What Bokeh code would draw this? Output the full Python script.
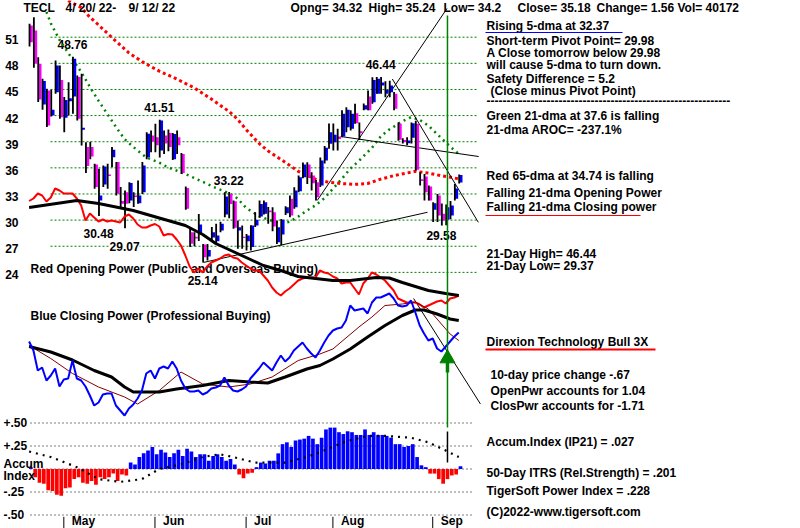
from bokeh.plotting import figure
from bokeh.models import Range1d, ColumnDataSource
from bokeh.core.properties import value
from bokeh.transform import dodge
from bokeh.embed import file_html
from bokeh.resources import INLINE

# ------------------------------------------------------------------ data
DAYS = list(range(100))   # trading days 4/20/22 .. 9/12/22

OPEN = [52.35, 51.77, 47.95, 43.28, 44.89, 42.01, 44.69, 46.10, 41.75, 43.66,
        44.20, 46.42, 40.37, 38.38, 38.40, 36.39, 32.26, 34.09, 35.24, 37.23,
        36.66, 32.18, 33.21, 32.26, 32.83, 31.95, 33.21, 37.23, 39.70, 39.50,
        37.99, 39.70, 40.00, 37.00, 39.50, 37.60, 33.70, 28.60, 28.10, 28.42,
        27.20, 25.82, 28.00, 27.58, 28.80, 30.64, 33.00, 32.17, 28.80, 28.10,
        27.58, 26.90, 29.38, 30.41, 30.72, 31.10, 30.91, 27.46, 28.34, 30.80,
        32.44, 31.48, 33.32, 34.93, 36.38, 35.12, 34.35, 33.97, 36.84, 38.76,
        38.95, 39.60, 39.60, 40.67, 40.48, 42.28, 40.20, 42.70, 44.20, 43.54,
        44.50, 45.46, 44.50, 44.69, 44.50, 41.05, 39.21, 38.83, 39.45, 41.05,
        34.70, 35.00, 33.86, 31.18, 32.83, 30.72, 30.03, 30.53, 32.44, 34.32]
HIGH = [52.54, 53.30, 48.71, 46.22, 45.08, 44.96, 48.33, 47.76, 44.12, 45.84,
        48.76, 46.60, 46.80, 38.95, 39.00, 36.47, 35.89, 36.27, 36.47, 38.38,
        36.66, 33.79, 33.40, 34.36, 33.21, 34.55, 36.66, 40.10, 40.30, 41.05,
        41.51, 40.30, 40.40, 40.00, 40.30, 37.70, 33.85, 29.10, 28.60, 30.70,
        27.27, 27.27, 29.20, 29.57, 29.80, 33.20, 33.22, 32.25, 29.95, 29.38,
        28.40, 29.40, 30.90, 32.25, 32.25, 31.50, 31.48, 29.95, 30.14, 31.60,
        32.83, 33.78, 35.12, 36.60, 36.65, 35.50, 34.60, 37.20, 38.50, 41.10,
        41.10, 40.50, 42.60, 42.97, 42.60, 43.35, 41.20, 43.40, 44.88, 46.40,
        46.44, 46.44, 45.95, 46.00, 44.70, 41.20, 39.40, 39.50, 41.20, 41.40,
        35.50, 35.30, 33.97, 32.06, 33.00, 31.90, 31.80, 32.20, 34.16, 35.24]
LOW = [49.94, 47.49, 43.55, 42.67, 40.68, 41.90, 44.50, 41.63, 40.10, 42.00,
       42.20, 41.44, 38.57, 35.40, 37.00, 33.60, 30.48, 33.80, 33.60, 36.08,
       32.83, 31.30, 29.07, 31.95, 31.50, 31.87, 33.00, 37.00, 37.80, 37.80,
       37.20, 37.60, 37.90, 36.90, 37.60, 35.30, 31.20, 26.90, 27.00, 27.60,
       25.14, 25.36, 27.50, 27.27, 28.60, 30.33, 30.20, 29.00, 26.70, 26.70,
       26.50, 26.50, 29.20, 30.26, 30.64, 29.57, 28.73, 27.27, 27.08, 30.60,
       30.33, 31.29, 33.20, 34.80, 34.16, 33.40, 32.26, 33.80, 36.50, 38.20,
       38.00, 38.00, 39.50, 40.10, 40.30, 41.05, 39.20, 42.60, 42.60, 43.35,
       44.50, 44.50, 44.10, 44.10, 42.60, 39.10, 38.80, 38.60, 38.80, 35.70,
       33.97, 32.25, 32.25, 29.77, 29.77, 29.37, 29.40, 30.10, 32.26, 34.20]
CLOSE = [50.43, 47.95, 43.86, 45.96, 40.87, 42.67, 47.76, 41.82, 43.80, 44.00,
         48.52, 41.63, 40.60, 36.20, 37.30, 33.79, 32.83, 36.16, 35.05, 38.07,
         33.02, 31.87, 31.87, 34.25, 32.64, 32.83, 36.27, 39.91, 39.00, 38.60,
         41.43, 38.80, 38.40, 39.90, 38.60, 35.40, 31.30, 27.30, 27.90, 29.49,
         25.74, 26.58, 28.60, 28.23, 29.57, 32.71, 31.86, 29.11, 29.19, 27.96,
         28.23, 29.38, 30.03, 31.86, 32.06, 30.91, 29.26, 29.19, 30.03, 31.48,
         30.53, 33.40, 34.93, 36.38, 34.93, 34.24, 32.63, 36.84, 38.30, 40.10,
         39.80, 39.30, 42.20, 42.66, 42.20, 41.13, 39.98, 43.20, 42.60, 46.10,
         46.22, 45.80, 44.96, 45.45, 42.78, 39.22, 38.95, 39.14, 41.13, 35.77,
         34.50, 33.20, 32.25, 31.95, 30.53, 29.95, 31.48, 31.68, 33.62, 35.18]

# Green 21-dma and red 65-dma
MA21_DAYS = [4, 5, 7, 9, 12, 14, 16, 18, 20, 22, 24, 27, 30, 32, 35, 38, 40, 43, 46, 48,
             50, 53, 56, 58, 60, 62, 64, 66, 68, 70, 72, 74, 76, 79, 81, 83, 86, 88, 90,
             92, 95, 97, 99]
MA21_VALS = [53.9, 52.6, 50.7, 49.2, 47.0, 45.3, 43.7, 42.2, 40.7, 39.3, 38.4, 37.2, 36.6,
             36.05, 35.5, 34.85, 34.4, 33.7, 33.1, 32.5, 31.4, 30.45, 29.9, 29.6, 29.8,
             30.4, 31.1, 31.7, 32.5, 33.6, 34.7, 35.9, 36.8, 38.3, 39.6, 40.4, 41.35,
             41.82, 41.5, 40.85, 39.4, 38.45, 37.6]
MA65_DAYS = [9, 12, 14, 16, 19, 23, 26, 30, 34, 38, 42, 46, 48, 50, 53, 55, 57, 60, 62,
             66, 69, 72, 75, 78, 81, 84, 87, 89, 92, 95, 99]
MA65_VALS = [55.2, 54.4, 53.3, 52.4, 51.0, 49.2, 48.2, 47.1, 46.2, 45.2, 43.9, 42.5, 41.6,
             40.4, 38.8, 37.95, 37.3, 36.3, 35.6, 34.7, 34.35, 34.2, 34.1, 34.2, 34.7,
             35.1, 35.4, 35.6, 35.4, 35.1, 34.74]

# Opening Power (red) and its moving average (black)
OPEN_POWER = [9.9, 10.4, 11.4, 11.0, 9.8, 10.6, 12.4, 12.0, 11.4, 11.4,
              11.4, 10.4, 9.0, 6.0, 7.4, 6.6, 5.8, 6.2, 5.8, 6.0,
              5.8, 5.6, 6.8, 7.2, 6.4, 5.2, 4.6, 4.6, 5.0, 5.3,
              4.8, 3.0, 3.3, 3.2, 2.2, 1.0, -1.0, -3.2, -4.4, -3.6,
              -4.4, -3.2, -2.4, -2.0, -1.6, -1.0, -0.8, -1.4, -1.6, -2.4,
              -3.0, -3.6, -4.0, -4.0, -5.0, -6.0, -7.4, -8.4, -9.0, -8.2,
              -7.6, -6.8, -6.0, -5.6, -5.4, -5.4, -5.4, -4.0, -4.4, -4.6,
              -5.2, -5.6, -6.6, -6.4, -6.4, -7.6, -8.8, -6.6, -5.6, -4.4,
              -4.8, -5.4, -6.0, -7.0, -8.0, -9.6, -10.0, -10.4, -10.4, -10.4,
              -10.8, -11.4, -11.0, -10.6, -10.2, -10.0, -10.6, -9.6, -9.4, -9.0]
OP_MA_DAYS = [0, 11, 16, 24, 28, 32, 36, 40, 43, 47, 51, 54, 58, 62, 66, 70, 74, 78, 80,
              83, 86, 89, 92, 96, 99]
OP_MA_VALS = [8.6, 10.0, 9.4, 8.0, 7.0, 6.0, 5.0, 3.2, 1.4, -0.2, -1.8, -3.0, -4.0, -5.2,
              -5.6, -6.0, -6.0, -5.6, -5.4, -5.5, -6.4, -7.2, -8.0, -8.6, -9.0]

# Closing Power (blue) and its two moving averages
CLOSE_POWER = [5.8, 4.0, 0.0, 0.6, -2.0, -1.0, 0.4, -3.2, -1.8, -1.6,
               2.0, -1.6, -2.0, -3.2, -5.0, -7.0, -6.4, -4.8, -4.6, -4.6,
               -7.0, -8.0, -9.0, -7.6, -6.8, -5.6, -4.0, -0.6, 0.0, -1.6,
               0.4, 0.8, 0.4, 1.8, 0.4, -2.0, -3.6, -4.2, -4.2, -4.0,
               -4.8, -4.4, -3.6, -3.4, -3.0, -1.4, -3.0, -4.0, -4.2, -3.8,
               -3.2, -1.6, -0.6, 0.4, 1.6, 0.8, 0.0, 1.6, 3.0, 1.8,
               2.6, 4.0, 4.8, 5.6, 4.4, 3.4, 2.6, 4.0, 5.6, 7.0,
               8.0, 8.4, 8.6, 10.0, 13.0, 12.0, 12.2, 12.4, 11.4, 13.6,
               14.6, 14.6, 15.0, 15.4, 14.4, 13.0, 12.8, 13.0, 14.0, 11.6,
               9.0, 7.4, 6.0, 6.4, 4.4, 3.8, 4.8, 5.8, 6.8, 7.6]
CP_MA_DAYS = [0, 5, 10, 15, 19, 22, 24, 30, 34, 40, 46, 51, 55, 59, 64, 67, 70, 74, 78,
              82, 86, 89, 91, 94, 97, 99]
CP_MA_VALS = [4.8, 3.7, 2.1, 0.0, -1.3, -3.3, -4.3, -4.3, -3.7, -3.0, -2.0, -2.3, -2.5,
              -1.3, 0.3, 1.0, 2.3, 4.3, 6.7, 9.0, 11.0, 12.1, 12.1, 11.3, 10.3, 10.0]
CP_MA2_DAYS = [0, 5, 10, 16, 22, 25, 30, 35, 40, 46, 51, 56, 62, 67, 70, 76, 79, 82, 86,
               89, 92, 95, 97, 99]
CP_MA2_VALS = [5.0, 2.4, -0.6, -3.3, -5.3, -6.7, -4.0, -0.3, -2.7, -3.3, -2.7, -1.3, 2.0,
               3.3, 4.3, 8.7, 10.7, 13.0, 13.3, 13.7, 12.3, 9.3, 7.3, 6.0]

# Accumulation Index (IP21) and its moving average
ACCUM = [0.02, -0.09, -0.15, -0.16, -0.23, -0.24, -0.28, -0.29, -0.21, -0.20,
         -0.11, -0.09, -0.15, -0.16, -0.13, -0.17, -0.09, -0.11, -0.09, -0.05,
         -0.13, -0.06, -0.07, 0.07, 0.05, 0.13, 0.17, 0.20, 0.24, 0.16,
         0.21, 0.18, 0.13, 0.17, 0.21, 0.14, 0.22, 0.19, 0.13, 0.16,
         0.16, 0.09, 0.14, 0.16, 0.13, 0.09, 0.11, 0.05, -0.06, -0.10,
         -0.05, -0.04, 0.02, 0.07, 0.06, 0.09, 0.09, 0.17, 0.27, 0.29,
         0.24, 0.31, 0.32, 0.33, 0.36, 0.33, 0.27, 0.34, 0.43, 0.45,
         0.45, 0.40, 0.38, 0.41, 0.40, 0.37, 0.37, 0.43, 0.37, 0.40,
         0.37, 0.37, 0.36, 0.34, 0.27, 0.27, 0.24, 0.25, 0.27, 0.13,
         0.04, 0.02, -0.05, -0.05, -0.11, -0.16, -0.11, -0.07, -0.06, 0.03]
ACC_MA_DAYS = [0, 5, 11, 16, 21, 26, 30, 35, 40, 44, 47, 52, 59, 64, 69, 73, 78, 82, 88,
               92, 96, 99]
ACC_MA_VALS = [0.19, 0.13, 0.02, -0.11, -0.14, -0.11, 0.0, 0.05, 0.13, 0.16, 0.13, 0.07,
               0.07, 0.13, 0.22, 0.30, 0.36, 0.36, 0.34, 0.29, 0.20, 0.13]

# Trend lines (day, price) pairs
TREND_D0 = [40.2, 66.4, 83.7, 71.8]
TREND_P0 = [25.14, 32.26, 46.2, 39.6]
TREND_D1 = [91.8, 96.3, 103.5, 103.6]
TREND_P1 = [30.9, 54.3, 29.75, 37.3]
CP_TREND_D = [88.6, 104.0]
CP_TREND_V = [14.4, -6.7]
SIGNAL_DAY = 96.4

PRICE_TICKS = [51, 48, 45, 42, 39, 36, 33, 30, 27, 24]
ACC_TICKS = [0.50, 0.25, 0.0, -0.25, -0.50]
ACC_TICK_LABELS = ["+.50", "+.25", "", "-.25", "-.50"]
MONTH_DAYS = [8, 29, 50, 70, 93]
MONTH_LABELS = ["May", "Jun", "Jul", "Aug", "Sep"]

HIGH_LABEL_DAYS = [10, 30, 46, 81]
HIGH_LABEL_VALS = [48.76, 41.51, 33.22, 46.44]
LOW_LABEL_DAYS = [16, 22, 40]
LOW_LABEL_VALS = [30.48, 29.07, 25.14]
RECENT_LOW_DAY, RECENT_LOW_VAL = 95, 29.58

HEADER = ["TECL", "4/ 20/ 22-", "9/ 12/ 22", "Opng= 34.32", "High= 35.24", "Low= 34.2",
          "Close= 35.18", "Change= 1.56", "Vol= 40172"]
HEADER_X = [23, 65, 128, 290, 368, 443, 517, 596, 677]
SIDE_TEXT = ["Rising 5-dma at 32.37", "Short-term Pivot Point= 29.98",
             "A Close tomorrow below  29.98", "will cause 5-dma to turn down.",
             "Safety Difference = 5.2", "(Close minus Pivot Point)", "-" * 61,
             "Green 21-dma at  37.6 is falling", "21-dma AROC= -237.1%",
             "Red 65-dma at  34.74 is falling", "Falling 21-dma Opening Power",
             "Falling 21-dma Closing power", "21-Day High= 46.44", "21-Day Low= 29.37",
             "Direxion Technology Bull 3X", "10-day price change -.67",
             "OpenPwr accounts for  1.04", "ClosPwr accounts for -1.71",
             "Accum.Index (IP21) =  .027", "50-Day ITRS (Rel.Strength) =  .201",
             "TigerSoft Power Index =  .228", "(C)2022-www.tigersoft.com"]
SIDE_X = [486, 486, 486, 486, 486, 490, 486, 486, 486, 486, 486, 486, 486, 486,
          486, 490, 490, 490, 486, 486, 486, 486]
SIDE_Y = [25, 40.5, 52.8, 64.7, 78, 90, 100, 115, 129.7, 175.7, 192, 206.7, 253.3, 265.3,
          341.7, 374.7, 390, 405.7, 441.3, 472, 490, 511.7]

# ------------------------------------------------------------------ layout helpers
W, H = 800, 528
def px_day(X):      # reference pixel column -> day units
    return (X - 28.6) / 4.34
def px_price(Y):    # reference pixel row -> price units
    return 51 - (Y - 36.7) / 8.71

FONT = value("Liberation Sans")
BLUE, MAGENTA, RED, GREEN = "#0000FF", "#FF00FF", "#FF0000", "#008000"

p = figure(width=W, height=H, output_backend="svg", toolbar_location=None,
           x_range=Range1d(px_day(0), px_day(W)),
           y_range=Range1d(px_price(H), px_price(0)),
           x_axis_location=None, y_axis_location=None, min_border=0)
p.grid.visible = False
p.outline_line_color = None
p.background_fill_color = "white"
p.extra_y_ranges = {
    "op": Range1d((250 - H) / 5, 250 / 5),
    "cp": Range1d((370 - H) / 5, 370 / 5),
    "acc": Range1d((468.5 - H) / 92, 468.5 / 92),
}

def txt(xs, ys, texts, align="left", baseline="middle", size="12px", color="black",
        bg=None, rng="default", xo=0, yo=0):
    kw = dict(x=xs, y=ys, text=texts, text_font=FONT, text_font_size=size,
              text_font_style="bold", text_align=align, text_baseline=baseline,
              text_color=color, x_offset=xo, y_offset=yo, y_range_name=rng)
    if bg:
        kw.update(background_fill_color=bg, padding=0)
    p.text(**kw)

# ------------------------------------------------------------------ grid lines
p.segment(x0=px_day(50), x1=px_day(478), y0=PRICE_TICKS, y1=PRICE_TICKS,
          line_color=GREEN, line_dash="2 2", line_width=1)
p.segment(x0=px_day(30), x1=px_day(472), y0=ACC_TICKS, y1=ACC_TICKS,
          line_color="black", line_dash="1 3", line_width=1, y_range_name="acc")

# panel titles with opaque background (hide grid behind)
txt([px_day(30)], [px_price(268)], ["Red Opening Power (Public and Overseas Buying)"], bg="white")
txt([px_day(30)], [px_price(315)], ["Blue Closing Power (Professional Buying)"])

# value labels
txt(HIGH_LABEL_DAYS, HIGH_LABEL_VALS, [f"{v:.2f}" for v in HIGH_LABEL_VALS],
    align="center", yo=-12, bg="white")
txt(LOW_LABEL_DAYS, LOW_LABEL_VALS, [f"{v:.2f}" for v in LOW_LABEL_VALS],
    align="center", yo=18, bg="white")
txt([RECENT_LOW_DAY], [RECENT_LOW_VAL], [f"{RECENT_LOW_VAL:.2f}"], align="center", yo=12,
    bg="white")

# ------------------------------------------------------------------ moving averages
p.line(MA21_DAYS, MA21_VALS, line_color=GREEN, line_width=2.5, line_dash="2 4")
p.line(MA65_DAYS, MA65_VALS, line_color=RED, line_width=3, line_dash="3 3")

# trend lines
p.segment(x0=TREND_D0, y0=TREND_P0, x1=TREND_D1, y1=TREND_P1, line_color="black", line_width=1)
p.line(CP_TREND_D, CP_TREND_V, line_color="black", line_width=1, y_range_name="cp")

# ------------------------------------------------------------------ candles
src = ColumnDataSource(dict(day=DAYS, open=OPEN, high=HIGH, low=LOW, close=CLOSE,
                            color=[BLUE if c > o else MAGENTA for o, c in zip(OPEN, CLOSE)]))
p.vbar(x=dodge("day", 0.45, range=p.x_range), width=0.82, top="open", bottom="close",
       fill_color="color", line_color=None, source=src)
p.vbar(x=dodge("day", 0.1, range=p.x_range), width=0.42, top="high", bottom="low",
       fill_color="black", line_color=None, source=src)

# ------------------------------------------------------------------ power lines
p.line(DAYS, OPEN_POWER, line_color=RED, line_width=2, y_range_name="op")
p.line(OP_MA_DAYS, OP_MA_VALS, line_color="black", line_width=3, y_range_name="op")
p.line(CP_MA2_DAYS, CP_MA2_VALS, line_color="#800000", line_width=1, y_range_name="cp")
p.line(CP_MA_DAYS, CP_MA_VALS, line_color="black", line_width=3, y_range_name="cp")
p.line(DAYS, CLOSE_POWER, line_color=BLUE, line_width=2, y_range_name="cp")

# ------------------------------------------------------------------ accumulation index
acc_src = ColumnDataSource(dict(day=DAYS, acc=ACCUM,
                                color=[BLUE if a >= 0 else RED for a in ACCUM]))
p.vbar(x=dodge("day", 0.4, range=p.x_range), width=0.85, top="acc", bottom=0,
       fill_color="color", line_color=None, source=acc_src, y_range_name="acc")
p.line(ACC_MA_DAYS, ACC_MA_VALS, line_color="black", line_width=2.2, line_dash="2 5",
       y_range_name="acc")

# ------------------------------------------------------------------ signal marker
p.segment(x0=[SIGNAL_DAY], x1=[SIGNAL_DAY], y0=[px_price(15)], y1=[px_price(427)],
          line_color=GREEN, line_width=1.5)
p.segment(x0=[SIGNAL_DAY], x1=[SIGNAL_DAY], y0=[px_price(431)], y1=[px_price(462)],
          line_color="black", line_width=1.5)
p.segment(x0=[SIGNAL_DAY], x1=[SIGNAL_DAY], y0=[px_price(356)], y1=[px_price(372)],
          line_color=GREEN, line_width=3.5)
p.scatter([SIGNAL_DAY], [px_price(358)], marker="triangle", size=15,
          fill_color=GREEN, line_color=GREEN)

# ------------------------------------------------------------------ axis labels
txt([px_day(18)] * len(PRICE_TICKS), PRICE_TICKS, [str(t) for t in PRICE_TICKS],
    align="right", yo=2.5)
txt([px_day(3)] * len(ACC_TICKS), ACC_TICKS, ACC_TICK_LABELS, rng="acc", yo=-1)
txt([px_day(3), px_day(3)], [0, 0], ["Accum", "Index"], rng="acc", yo=[-5.5, 6.5])
p.segment(x0=MONTH_DAYS, x1=MONTH_DAYS, y0=-0.52, y1=-0.65, line_color="black",
          line_width=1, y_range_name="acc")
txt(MONTH_DAYS, [-0.5] * len(MONTH_DAYS), MONTH_LABELS, rng="acc", xo=8, yo=6)

# ------------------------------------------------------------------ header & side text
txt([px_day(x) for x in HEADER_X], [px_price(7)] * len(HEADER), HEADER)
txt([px_day(x) for x in SIDE_X], [px_price(y) for y in SIDE_Y], SIDE_TEXT)
# underlines
p.segment(x0=[px_day(485)], x1=[px_day(622)], y0=[px_price(32)], y1=[px_price(32)],
          line_color=BLUE, line_width=1)
p.segment(x0=[px_day(485)], x1=[px_day(640)], y0=[px_price(215)], y1=[px_price(215)],
          line_color=RED, line_width=1)
p.segment(x0=[px_day(485)], x1=[px_day(655)], y0=[px_price(349)], y1=[px_price(349)],
          line_color=RED, line_width=2)

open("out.html", "w").write(file_html(p, INLINE))
